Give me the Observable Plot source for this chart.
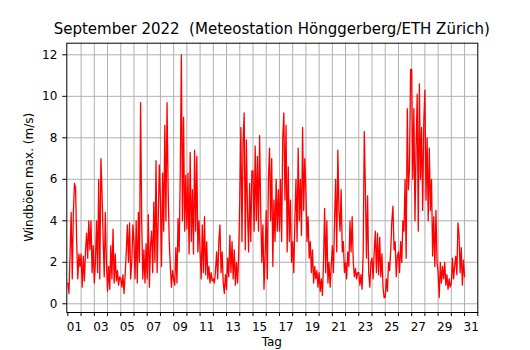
<!DOCTYPE html>
<html>
<head>
<meta charset="utf-8">
<script src="https://cdn.jsdelivr.net/npm/d3@7"></script>
<script src="https://cdn.jsdelivr.net/npm/@observablehq/plot@0.6"></script>
<style>
  html, body { margin: 0; padding: 0; background: #fff; }
  #chart { width: 530px; height: 350px; }
  svg { font-family: "DejaVu Sans", sans-serif; }
</style>
</head>
<body>
<div id="chart"></div>
<script>
// Windböen max. (m/s), 2-hour steps from 1 Sep 00:00, one row per day
const gust = [
  1.0, 0.5, 2.4, 4.4, 1.2, 4.4, 5.8, 5.6, 3.0, 1.2, 2.4, 1.8,
  2.4, 0.8, 2.3, 1.1, 2.5, 3.4, 2.2, 4.0, 2.6, 4.0, 1.5, 2.8,
  1.0, 2.0, 4.0, 1.5, 6.0, 1.2, 7.0, 5.4, 3.2, 1.3, 4.4, 2.0,
  0.6, 1.8, 0.7, 2.8, 1.2, 3.6, 1.0, 2.4, 1.1, 1.6, 0.9, 1.3,
  1.2, 0.8, 1.4, 0.5, 1.4, 2.5, 3.8, 2.0, 3.9, 1.2, 2.0, 3.8,
  3.0, 1.2, 4.0, 1.0, 4.4, 2.0, 9.7, 4.0, 1.2, 2.6, 1.0, 2.9,
  1.2, 4.3, 0.8, 2.8, 3.5, 1.5, 4.9, 2.0, 6.9, 1.5, 4.0, 6.7,
  5.0, 1.8, 6.3, 3.5, 8.6, 4.0, 9.7, 5.5, 3.0, 1.8, 0.8, 1.6,
  1.2, 0.9, 2.7, 1.0, 4.1, 2.5, 6.3, 12.0, 4.0, 9.0, 3.5, 6.2,
  3.6, 6.3, 2.4, 7.3, 3.0, 5.5, 2.4, 7.4, 3.5, 7.1, 2.5, 4.0,
  2.5, 1.2, 3.8, 1.5, 4.2, 1.4, 3.0, 1.2, 1.8, 1.0, 1.5, 1.1,
  1.2, 1.0, 1.6, 2.5, 1.2, 3.0, 3.8, 1.5, 2.5, 1.0, 0.5, 1.4,
  0.7, 2.2, 1.3, 3.3, 1.5, 3.0, 1.2, 2.6, 0.9, 2.0, 1.0, 2.3,
  5.0, 8.5, 3.0, 7.8, 9.2, 2.6, 7.9, 4.5, 2.5, 5.8, 3.0, 6.4,
  6.4, 3.5, 7.6, 4.0, 7.1, 3.5, 8.1, 4.5, 2.0, 3.8, 0.7, 2.3,
  4.5, 1.2, 6.0, 7.5, 4.0, 7.0, 1.8, 5.0, 3.0, 6.0, 3.5, 5.5,
  3.5, 6.0, 3.0, 8.0, 9.2, 5.0, 8.6, 2.5, 6.6, 3.0, 5.0, 2.0,
  3.0, 1.5, 4.0, 6.0, 3.0, 7.5, 4.0, 6.0, 3.3, 8.5, 4.5, 7.0,
  5.5, 3.0, 4.2, 2.2, 3.0, 1.5, 2.6, 1.0, 1.8, 1.2, 1.6, 0.8,
  1.5, 0.6, 1.2, 0.4, 2.0, 4.6, 1.5, 4.0, 1.0, 2.0, 0.8, 1.8,
  2.8, 1.5, 4.0, 6.0, 2.5, 7.4, 4.5, 3.5, 5.5, 2.5, 3.0, 1.5,
  2.0, 1.2, 2.5, 1.8, 4.0, 2.5, 4.2, 2.0, 1.3, 1.7, 1.2, 1.5,
  1.5, 0.9, 1.4, 0.7, 2.5, 8.3, 5.5, 2.2, 5.2, 1.5, 0.8, 2.0,
  2.2, 1.2, 2.5, 3.5, 1.5, 3.4, 1.4, 3.2, 1.3, 2.4, 0.8, 0.3,
  0.3, 1.2, 0.6, 2.0, 1.6, 2.6, 4.0, 4.7, 2.6, 3.0, 1.3, 2.3,
  2.5, 1.5, 3.0, 2.0, 4.0, 3.5, 6.0, 2.2, 9.4, 5.5, 6.5, 11.3,
  11.3, 6.0, 9.4, 4.0, 7.5, 10.1, 3.5, 10.6, 6.0, 8.5, 4.5, 8.8,
  10.3, 5.0, 8.0, 4.0, 7.5, 4.5, 6.0, 2.3, 4.2, 1.8, 4.5, 2.0,
  1.5, 0.3, 2.0, 1.0, 1.8, 1.2, 2.0, 0.9, 1.4, 0.7, 1.2, 0.8,
  1.0, 2.2, 1.2, 1.8, 2.3, 1.4, 3.9, 3.3, 1.5, 2.7, 0.9, 2.1, 1.3
];
const stepsPerDay = 12;
const xTickLabels = ["01","03","05","07","09","11","13","15","17","19","21","23","25","27","29","31"];
const yTicks = [0, 2, 4, 6, 8, 10, 12];
const titleText = "September 2022  (Meteostation Hönggerberg/ETH Zürich)";
const xLabel = "Tag";
const yLabel = "Windböen max. (m/s)";

const data = gust.map((v, i) => ({t: i / stepsPerDay, v}));
const dayBounds = d3.range(0, 32);
const gridDays = d3.range(1, 31);
const labelPos = xTickLabels.map(s => +s - 0.5);

const W = 530, H = 350;
const mL = 66.3, mR = W - 477.3, mT = 42.7, mB = H - 312;
const gridColor = "#b0b0b0";

const plot = Plot.plot({
  width: W, height: H,
  marginLeft: mL, marginRight: mR, marginTop: mT, marginBottom: mB,
  style: {fontFamily: "DejaVu Sans, sans-serif", fontSize: "12px", color: "black", background: "white"},
  x: {domain: [-0.08, 31]},
  y: {domain: [-0.42, 12.56]},
  marks: [
    Plot.gridY(yTicks, {stroke: gridColor, strokeOpacity: 1, strokeWidth: 1}),
    Plot.gridX(gridDays, {stroke: gridColor, strokeOpacity: 1, strokeWidth: 1}),
    Plot.line(data, {x: "t", y: "v", stroke: "red", strokeWidth: 1.3, curve: "linear"}),
    Plot.frame({stroke: "black", strokeWidth: 1}),
    Plot.axisY(yTicks, {tickSize: 4, tickPadding: 5.5, label: null, fontSize: 12, stroke: "black"}),
    Plot.axisX(dayBounds, {tickSize: 4, tickFormat: () => "", label: null, stroke: "black"}),
    Plot.axisX(labelPos, {tickSize: 0, tickPadding: 9.5, label: null, fontSize: 12,
      tickFormat: (d) => xTickLabels[labelPos.indexOf(d)]})
  ]
});

const svg = d3.select(plot);
svg.append("text")
  .attr("x", (mL + 477.3) / 2).attr("y", 33.5)
  .attr("text-anchor", "middle").attr("font-size", 15).attr("fill", "black")
  .text(titleText);
svg.append("text")
  .attr("x", (mL + 477.3) / 2).attr("y", 345.5)
  .attr("text-anchor", "middle").attr("font-size", 12).attr("fill", "black")
  .text(xLabel);
svg.append("text")
  .attr("transform", `translate(33,${(mT + 312) / 2}) rotate(-90)`)
  .attr("text-anchor", "middle").attr("font-size", 12).attr("fill", "black")
  .text(yLabel);

document.getElementById("chart").appendChild(plot);
</script>
</body>
</html>
